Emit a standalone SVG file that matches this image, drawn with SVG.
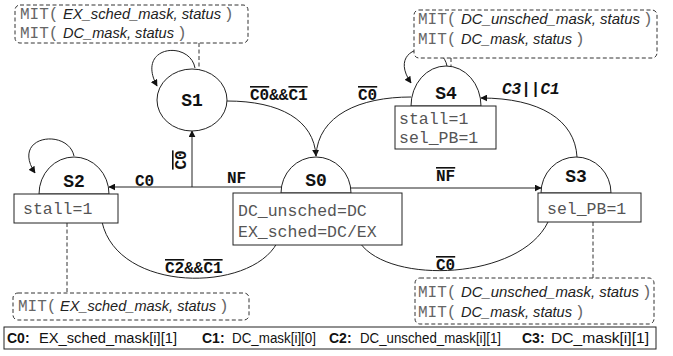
<svg xmlns="http://www.w3.org/2000/svg" width="673" height="356" viewBox="0 0 673 356">
  <defs>
    <marker id="arrow" viewBox="0 0 10 10" refX="9" refY="5" markerWidth="7" markerHeight="7" markerUnits="userSpaceOnUse" orient="auto">
      <path d="M0,0 L10,5 L0,10 z" fill="#111"/>
    </marker>
    <style>
      .shape { fill: #fff; stroke: #222; stroke-width: 1; }
      .edge { fill: none; stroke: #222; stroke-width: 1; }
      .dash { fill: none; stroke: #333; stroke-width: 1; stroke-dasharray: 4 2.5; }
      .note { fill: #fff; stroke: #333; stroke-width: 1; stroke-dasharray: 4 2.5; }
      .state { font-family: "Liberation Mono", "Courier New", monospace; font-weight: bold; font-size: 18px; fill: #111; text-anchor: middle; }
      .act { font-family: "Liberation Mono", "Courier New", monospace; font-size: 16.5px; fill: #555; }
      .lbl { font-family: "Liberation Mono", "Courier New", monospace; font-weight: bold; font-size: 16px; fill: #111; }
      .bar { text-decoration: overline; }
      .mit { font-family: "Liberation Mono", "Courier New", monospace; font-size: 16px; fill: #666; }
      .arg { font-family: "Liberation Sans", Arial, sans-serif; font-style: italic; font-size: 14.6px; fill: #222; }
      .key { font-family: "Liberation Sans", Arial, sans-serif; font-weight: bold; font-size: 14px; fill: #111; }
      .def { font-family: "Liberation Sans", Arial, sans-serif; font-size: 14px; fill: #111; }
    </style>
  </defs>

  <!-- transitions -->
  <g id="connectors">
    <line class="edge" x1="281" y1="187" x2="109" y2="187" marker-end="url(#arrow)"/>
    <line class="edge" x1="192" y1="187" x2="192" y2="131" marker-end="url(#arrow)"/>
    <line class="edge" x1="351" y1="188" x2="541" y2="188" marker-end="url(#arrow)"/>
    <path class="edge" d="M227,101 C280,101 314,120 316,156" marker-end="url(#arrow)"/>
    <path class="edge" d="M411,97 C360,97 318,115 316,156"/>
    <path class="edge" d="M577,157 C575,120 540,98 481,98" marker-end="url(#arrow)"/>
    <path class="edge" d="M195,68 C190,40 135,45 157,86" marker-end="url(#arrow)"/>
    <path class="edge" d="M447,66 C442,38 385,45 411,83" marker-end="url(#arrow)"/>
    <path class="edge" d="M74,156 C68,128 10,135 35,173" marker-end="url(#arrow)"/>
    <path class="edge" d="M102,222 C118,293 250,293 277,243"/>
    <path class="edge" d="M360,243 C390,285 520,280 548,222"/>
    <!-- links from states to their MIT notes -->
    <line class="dash" x1="199" y1="43" x2="199" y2="70"/>
    <line class="dash" x1="451" y1="58" x2="451" y2="66"/>
    <line class="dash" x1="67" y1="223" x2="67" y2="293"/>
    <line class="dash" x1="593" y1="222" x2="593" y2="278"/>

    <text class="lbl" x="135" y="186">C0</text>
    <text class="lbl" x="227" y="183">NF</text>
    <text class="lbl" x="436" y="181"><tspan class="bar">NF</tspan></text>
    <text class="lbl" transform="translate(186,160) rotate(-90)" text-anchor="middle"><tspan class="bar">C0</tspan></text>
    <text class="lbl" x="250" y="100"><tspan class="bar">C0</tspan>&amp;&amp;<tspan class="bar">C1</tspan></text>
    <text class="lbl" x="358" y="100"><tspan class="bar">C0</tspan></text>
    <text class="lbl" x="502" y="94" font-style="italic">C3||C1</text>
    <text class="lbl" x="165" y="273"><tspan class="bar">C2</tspan>&amp;&amp;<tspan class="bar">C1</tspan></text>
    <text class="lbl" x="436" y="270"><tspan class="bar">C0</tspan></text>
  </g>

  <g id="S1">
    <ellipse class="shape" cx="192" cy="100" rx="35" ry="31"/>
    <text class="state" x="192" y="106">S1</text>
  </g>

  <g id="S0">
    <path class="shape" d="M281,193 A35,36 0 0 1 351,193 Z"/>
    <rect class="shape" x="233" y="193" width="169" height="52"/>
    <text class="state" x="316" y="186">S0</text>
    <text class="act" x="238" y="216">DC_unsched=DC</text>
    <text class="act" x="238" y="237">EX_sched=DC/EX</text>
  </g>

  <g id="S2">
    <path class="shape" d="M39,194 A35,37 0 0 1 109,194 Z"/>
    <rect class="shape" x="14" y="194" width="104" height="29"/>
    <text class="state" x="74" y="187">S2</text>
    <text class="act" x="23" y="214">stall=1</text>
  </g>

  <g id="S3">
    <path class="shape" d="M541,193 A35,36 0 0 1 611,193 Z"/>
    <rect class="shape" x="538" y="193" width="103" height="29"/>
    <text class="state" x="576" y="182">S3</text>
    <text class="act" x="547" y="214">sel_PB=1</text>
  </g>

  <g id="S4">
    <path class="shape" d="M411,106 A35,40 0 0 1 481,106 Z"/>
    <rect class="shape" x="395" y="106" width="101" height="43"/>
    <text class="state" x="446" y="99">S4</text>
    <text class="act" x="399" y="124">stall=1</text>
    <text class="act" x="399" y="143">sel_PB=1</text>
  </g>

  <g id="note-S1">
    <rect class="note" x="15" y="5" width="233" height="38" rx="5"/>
    <text class="mit" x="20" y="19">MIT(</text>
    <text class="arg" x="63" y="19" textLength="158" lengthAdjust="spacingAndGlyphs">EX_sched_mask, status</text>
    <text class="mit" x="224" y="19">)</text>
    <text class="mit" x="20" y="38">MIT(</text>
    <text class="arg" x="63" y="38" textLength="111" lengthAdjust="spacingAndGlyphs">DC_mask, status</text>
    <text class="mit" x="177" y="38">)</text>
  </g>

  <g id="note-S4">
    <rect class="note" x="414" y="10" width="243" height="48" rx="5"/>
    <text class="mit" x="418" y="24">MIT(</text>
    <text class="arg" x="461" y="24" textLength="179" lengthAdjust="spacingAndGlyphs">DC_unsched_mask, status</text>
    <text class="mit" x="643" y="24">)</text>
    <text class="mit" x="418" y="44">MIT(</text>
    <text class="arg" x="461" y="44" textLength="111" lengthAdjust="spacingAndGlyphs">DC_mask, status</text>
    <text class="mit" x="575" y="44">)</text>
  </g>

  <g id="note-S2">
    <rect class="note" x="13" y="293" width="236" height="27" rx="5"/>
    <text class="mit" x="18" y="311">MIT(</text>
    <text class="arg" x="60" y="311" textLength="156" lengthAdjust="spacingAndGlyphs">EX_sched_mask, status</text>
    <text class="mit" x="219" y="311">)</text>
  </g>

  <g id="note-S3">
    <rect class="note" x="415" y="278" width="239" height="46" rx="5"/>
    <text class="mit" x="418" y="297">MIT(</text>
    <text class="arg" x="461" y="297" textLength="178" lengthAdjust="spacingAndGlyphs">DC_unsched_mask, status</text>
    <text class="mit" x="642" y="297">)</text>
    <text class="mit" x="418" y="317">MIT(</text>
    <text class="arg" x="461" y="317" textLength="111" lengthAdjust="spacingAndGlyphs">DC_mask, status</text>
    <text class="mit" x="575" y="317">)</text>
  </g>

  <g id="legend">
    <rect x="4" y="327" width="652" height="22" fill="#fff" stroke="#222" stroke-width="1"/>
    <text class="key" x="7" y="343">C0:</text>
    <text class="def" x="39" y="343" textLength="138" lengthAdjust="spacingAndGlyphs">EX_sched_mask[i][1]</text>
    <text class="key" x="202" y="343">C1:</text>
    <text class="def" x="232" y="343" textLength="84" lengthAdjust="spacingAndGlyphs">DC_mask[i][0]</text>
    <text class="key" x="329" y="343">C2:</text>
    <text class="def" x="360" y="343" textLength="141" lengthAdjust="spacingAndGlyphs">DC_unsched_mask[i][1]</text>
    <text class="key" x="522" y="343">C3:</text>
    <text class="def" x="551" y="343" textLength="98" lengthAdjust="spacingAndGlyphs">DC_mask[i][1]</text>
  </g>
</svg>
